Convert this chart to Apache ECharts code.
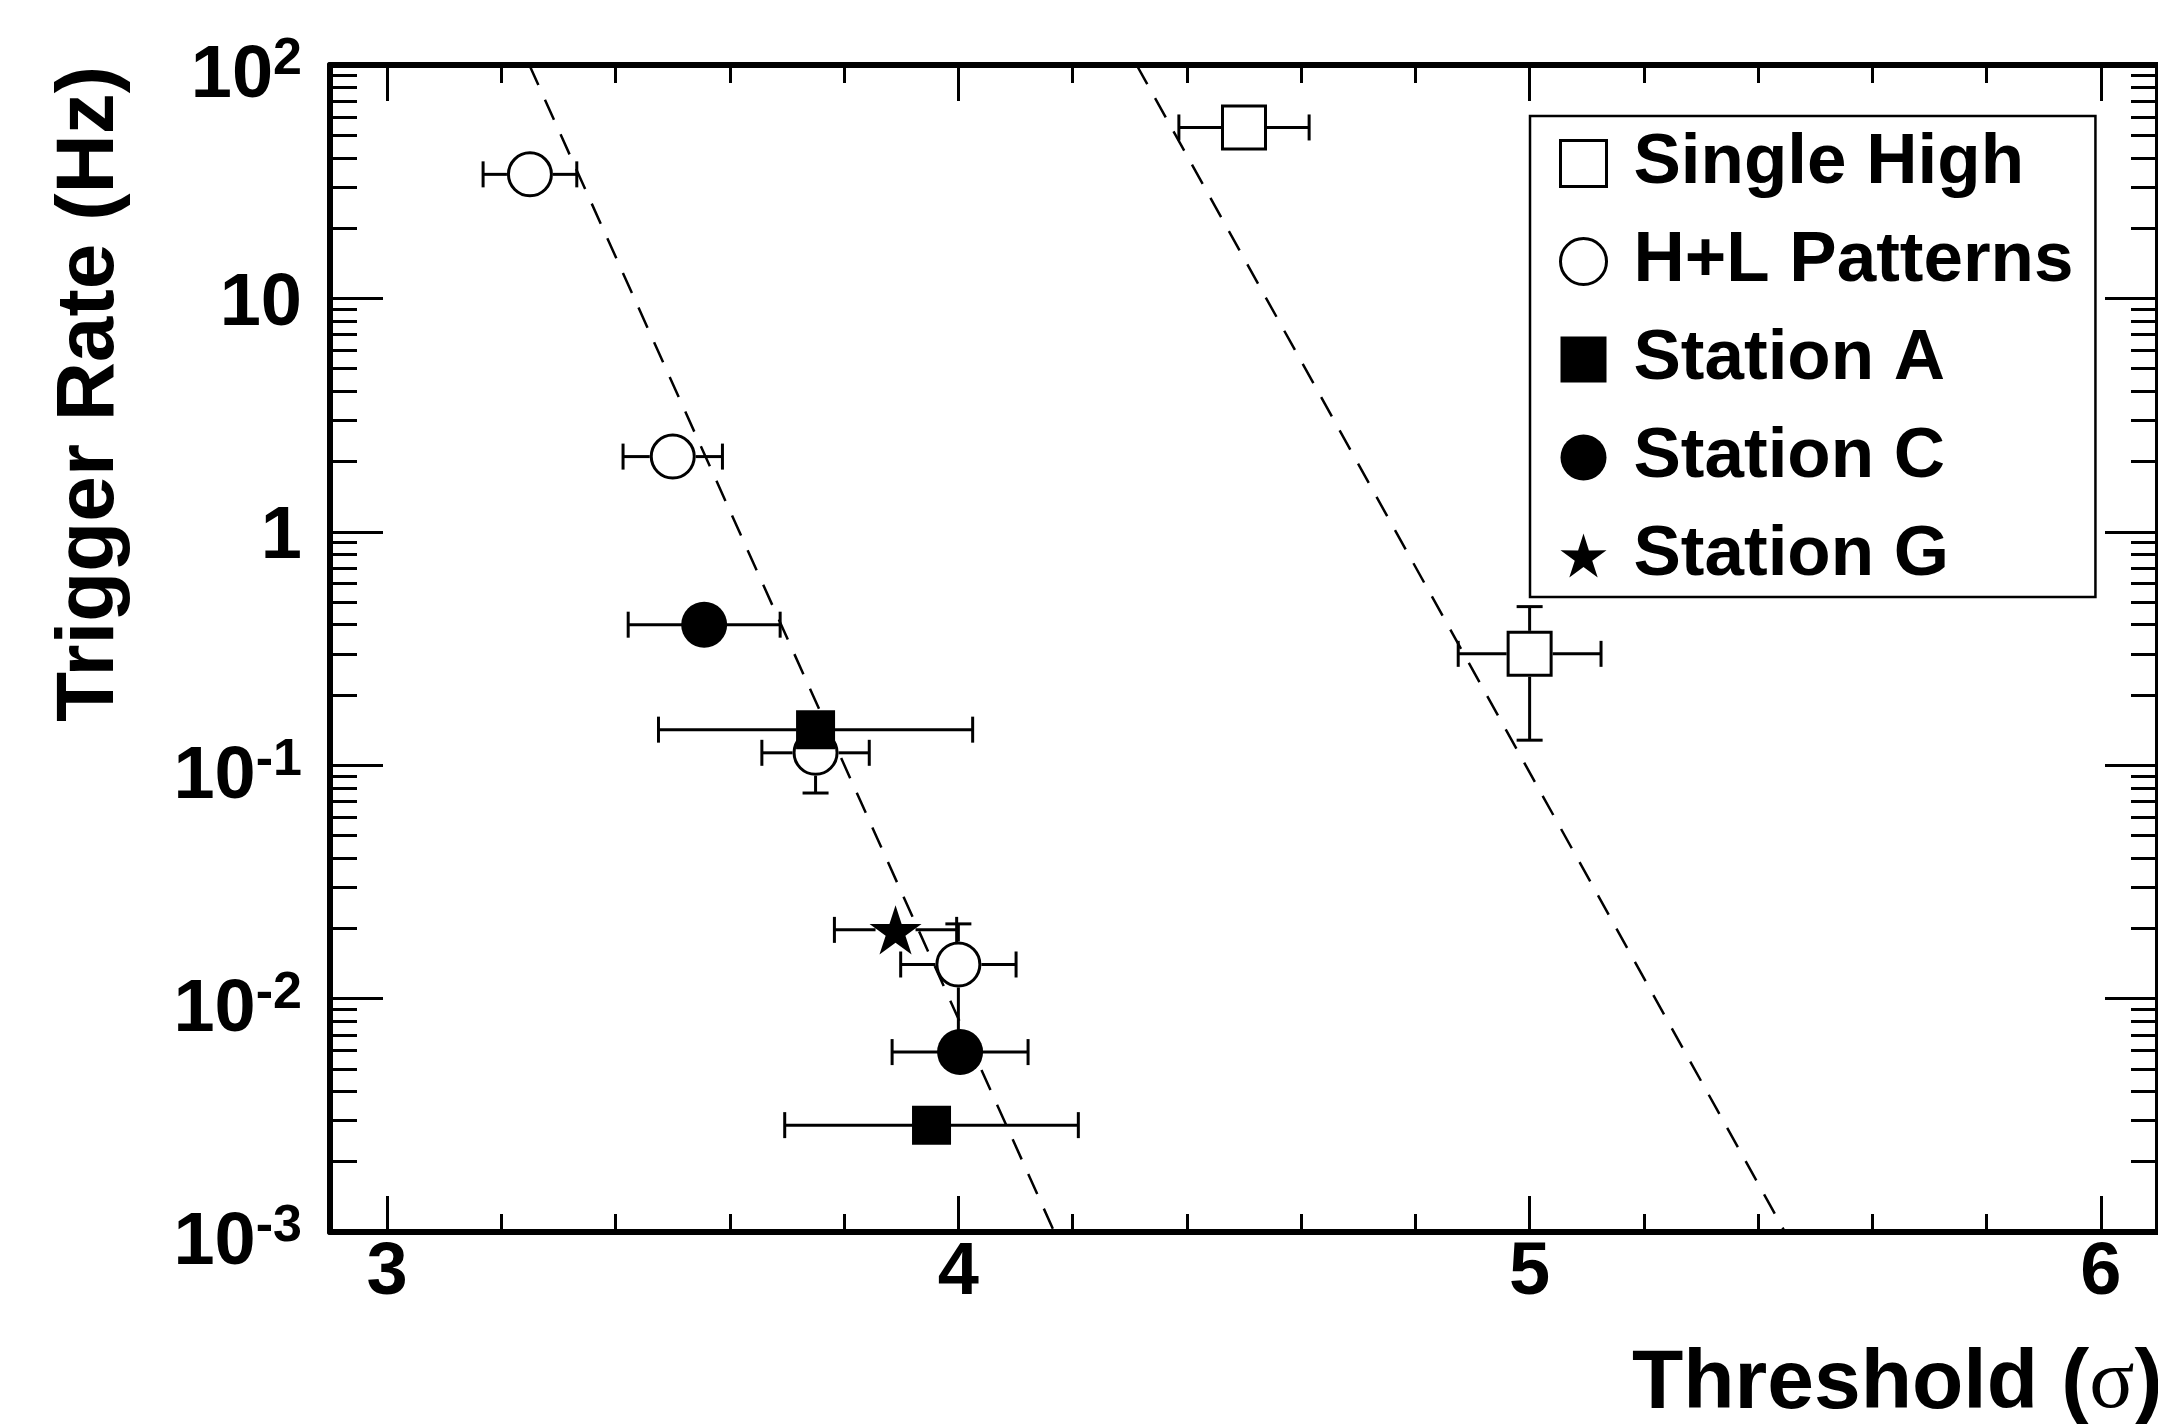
<!DOCTYPE html>
<html>
<head>
<meta charset="utf-8">
<title>Trigger Rate vs Threshold</title>
<script src="https://cdn.jsdelivr.net/npm/echarts@6.0.0/dist/echarts.min.js"></script>
<style>
    html, body { margin: 0; padding: 0; background: #fff; }
    #charts { width: 2158px; height: 1424px; }
</style>
</head>
<body>
<div id="charts"></div>
<script>
// 数据
var singleHighX = [4.50, 5.00];
var singleHighY = [54, 0.30];
var singleHighXErr = [0.114, 0.125];
var singleHighYLow = [54, 0.128];
var singleHighYHigh = [54, 0.478];

var hlX = [3.25, 3.50, 3.75, 4.00];
var hlY = [34, 2.1, 0.113, 0.0140];
var hlXErr = [0.082, 0.087, 0.094, 0.101];
var hlYLow = [34, 2.1, 0.076, 0.0068];
var hlYHigh = [34, 2.1, 0.150, 0.0209];

var stationAX = [3.75, 3.953];
var stationAY = [0.142, 0.00287];
var stationAXErr = [0.275, 0.257];

var stationCX = [3.555, 4.003];
var stationCY = [0.40, 0.0059];
var stationCXErr = [0.133, 0.119];

var stationGX = [3.89];
var stationGY = [0.0197];
var stationGXErr = [0.107];

// dashed fit lines, end points on the frame
var fitLowX = [3.249, 4.168];
var fitLowY = [100, 0.001];
var fitHighX = [4.312, 5.447];
var fitHighY = [100, 0.001];

// axes
var xMin = 2.9, xMax = 6.1;
var xTickMajor = [3, 4, 5, 6];
var xTickMinor = [3.2, 3.4, 3.6, 3.8, 4.2, 4.4, 4.6, 4.8, 5.2, 5.4, 5.6, 5.8];
var yMin = 0.001, yMax = 100;
var yDecades = [-3, -2, -1, 0, 1];
var yMinorMult = [2, 3, 4, 5, 6, 7, 8, 9];

var legendNames = ['Single High', 'H+L Patterns', 'Station A', 'Station C', 'Station G'];

var fontSans = '"Liberation Sans", Arial, Helvetica, sans-serif';
var starPath = 'path://M50 0 L61.17 34.63 L97.55 34.55 L68.07 55.87 L79.39 90.45 L50 69 L20.61 90.45 L31.93 55.87 L2.45 34.55 L38.83 34.63 Z';

// minor tick positions on the helper (log10) axis
var yMinorLog = [];
for (var i = 0; i < yDecades.length; i++) {
    for (var j = 0; j < yMinorMult.length; j++) {
        yMinorLog.push(yDecades[i] + Math.log(yMinorMult[j]) / Math.LN10);
    }
}

function points(xs, ys) {
    var list = [];
    for (var i = 0; i < xs.length; i++) {
        list.push([xs[i], ys[i]]);
    }
    return list;
}

function errPoints(xs, ys, ex, ylo, yhi) {
    var list = [];
    for (var i = 0; i < xs.length; i++) {
        list.push([xs[i], ys[i], ex[i], ylo ? ylo[i] : ys[i], yhi ? yhi[i] : ys[i]]);
    }
    return list;
}

// error bars, drawn from the marker edge outwards, with end caps
function errorSeries(name, data, half) {
    var cap = 13;
    return {
        name: name,
        type: 'custom',
        silent: true,
        z: 2,
        encode: { x: 0, y: 1 },
        data: data,
        renderItem: function (params, api) {
            var x = api.value(0), y = api.value(1), ex = api.value(2);
            var ylo = api.value(3), yhi = api.value(4);
            var c = api.coord([x, y]);
            var l = api.coord([x - ex, y]);
            var r = api.coord([x + ex, y]);
            var st = { stroke: '#000', lineWidth: 3 };
            var kids = [];
            function seg(x1, y1, x2, y2) {
                kids.push({ type: 'line', shape: { x1: x1, y1: y1, x2: x2, y2: y2 }, style: st });
            }
            if (c[0] - half > l[0]) seg(l[0], c[1], c[0] - half, c[1]);
            if (r[0] > c[0] + half) seg(c[0] + half, c[1], r[0], c[1]);
            seg(l[0], c[1] - cap, l[0], c[1] + cap);
            seg(r[0], c[1] - cap, r[0], c[1] + cap);
            if (ylo < y) {
                var lo = api.coord([x, ylo]);
                if (lo[1] > c[1] + half) seg(c[0], c[1] + half, c[0], lo[1]);
                seg(c[0] - cap, lo[1], c[0] + cap, lo[1]);
            }
            if (yhi > y) {
                var hi = api.coord([x, yhi]);
                if (hi[1] < c[1] - half) seg(c[0], hi[1], c[0], c[1] - half);
                seg(c[0] - cap, hi[1], c[0] + cap, hi[1]);
            }
            return { type: 'group', children: kids };
        }
    };
}

function yLabel(v) {
    var e = Math.round(Math.log(v) / Math.LN10);
    if (e === 0) return '{p|1}';
    if (e === 1) return '{p|10}';
    return '{b|10}{s|' + e + '}';
}

var labelBase = { fontFamily: fontSans, fontWeight: 'bold', color: '#000' };
var frameLine = { show: true, onZero: false, lineStyle: { color: '#000', width: 6 } };
var noLine = { show: false, onZero: false };

var myChart = echarts.init(document.getElementById('charts'), null, { renderer: 'canvas' });

option = {
    backgroundColor: '#fff',
    animation: false,
    grid: { left: 330, top: 65, right: 0, bottom: 192, containLabel: false },
    legend: {
        orient: 'vertical',
        left: 1530,
        top: 116,
        padding: [12, 22, 6, 29],
        itemWidth: 46,
        itemHeight: 46,
        itemGap: 27,
        selectedMode: false,
        borderColor: '#000',
        borderWidth: 2.5,
        backgroundColor: '#fff',
        textStyle: { fontFamily: fontSans, fontWeight: 'bold', fontSize: 71, lineHeight: 71, color: '#000', padding: [0, 0, 0, 22] },
        data: [
            { name: legendNames[0], icon: 'rect', itemStyle: { color: '#fff', borderColor: '#000', borderWidth: 3, opacity: 1 } },
            { name: legendNames[1], icon: 'circle', itemStyle: { color: '#fff', borderColor: '#000', borderWidth: 3, opacity: 1 } },
            { name: legendNames[2], icon: 'rect', itemStyle: { color: '#000', borderWidth: 0, opacity: 1 } },
            { name: legendNames[3], icon: 'circle', itemStyle: { color: '#000', borderWidth: 0, opacity: 1 } },
            { name: legendNames[4], icon: starPath, itemStyle: { color: '#000', borderWidth: 0, opacity: 1 } }
        ]
    },
    xAxis: [
        {
            type: 'value', position: 'bottom', min: xMin, max: xMax,
            axisLine: frameLine,
            axisTick: { show: true, inside: true, length: 36, customValues: xTickMajor, lineStyle: { color: '#000', width: 3 } },
            axisLabel: {
                show: true, customValues: xTickMajor, margin: 5,
                fontFamily: fontSans, fontWeight: 'bold', fontSize: 74, lineHeight: 74, color: '#000',
                formatter: function (v) { return String(v); }
            },
            splitLine: { show: false }
        },
        {
            type: 'value', position: 'bottom', min: xMin, max: xMax,
            axisLine: noLine,
            axisTick: { show: true, inside: true, length: 18, customValues: xTickMinor, lineStyle: { color: '#000', width: 3 } },
            axisLabel: { show: false },
            splitLine: { show: false }
        },
        {
            type: 'value', position: 'top', min: xMin, max: xMax,
            axisLine: frameLine,
            axisTick: { show: true, inside: true, length: 36, customValues: xTickMajor, lineStyle: { color: '#000', width: 3 } },
            axisLabel: { show: false },
            splitLine: { show: false }
        },
        {
            type: 'value', position: 'top', min: xMin, max: xMax,
            axisLine: noLine,
            axisTick: { show: true, inside: true, length: 18, customValues: xTickMinor, lineStyle: { color: '#000', width: 3 } },
            axisLabel: { show: false },
            splitLine: { show: false }
        }
    ],
    yAxis: [
        {
            type: 'log', logBase: 10, position: 'left', min: yMin, max: yMax,
            axisLine: frameLine,
            axisTick: { show: true, inside: true, length: 53, lineStyle: { color: '#000', width: 3 } },
            axisLabel: {
                show: true, margin: 28, showMinLabel: true, showMaxLabel: true,
                padding: [12, 0, 0, 0],
                formatter: yLabel,
                rich: {
                    p: echarts.util.extend({ fontSize: 74, lineHeight: 74 }, labelBase),
                    b: echarts.util.extend({ fontSize: 74, lineHeight: 74, padding: [12, 0, 0, 0] }, labelBase),
                    s: echarts.util.extend({ fontSize: 52, lineHeight: 52, verticalAlign: 'top' }, labelBase)
                }
            },
            splitLine: { show: false },
            minorTick: { show: false }
        },
        {
            type: 'value', position: 'left', min: -3, max: 2,
            axisLine: noLine,
            axisTick: { show: true, inside: true, length: 27, customValues: yMinorLog, lineStyle: { color: '#000', width: 3 } },
            axisLabel: { show: false },
            splitLine: { show: false }
        },
        {
            type: 'log', logBase: 10, position: 'right', min: yMin, max: yMax,
            axisLine: frameLine,
            axisTick: { show: true, inside: true, length: 53, lineStyle: { color: '#000', width: 3 } },
            axisLabel: { show: false },
            splitLine: { show: false }
        },
        {
            type: 'value', position: 'right', min: -3, max: 2,
            axisLine: noLine,
            axisTick: { show: true, inside: true, length: 27, customValues: yMinorLog, lineStyle: { color: '#000', width: 3 } },
            axisLabel: { show: false },
            splitLine: { show: false }
        }
    ],
    graphic: [
        {
            type: 'text', x: 90, y: 66, rotation: Math.PI / 2, silent: true,
            style: {
                text: 'Trigger Rate (Hz)', fill: '#000',
                font: 'bold 82px ' + fontSans,
                align: 'right', textAlign: 'right', verticalAlign: 'middle', textVerticalAlign: 'middle'
            }
        },
        {
            type: 'text', x: 1632, y: 1385, silent: true,
            style: {
                text: '{a|Threshold (}{g|σ}{a|)}',
                align: 'left', textAlign: 'left', verticalAlign: 'middle', textVerticalAlign: 'middle',
                rich: {
                    a: { fontFamily: fontSans, fontWeight: 'bold', fontSize: 84, color: '#000' },
                    g: { fontFamily: '"Liberation Serif", "Times New Roman", serif', fontSize: 84, color: '#000' }
                }
            }
        }
    ],
    series: []
};

// fit lines
option.series.push({
    name: 'fitLow', type: 'line', z: 1, symbol: 'none', silent: true,
    data: points(fitLowX, fitLowY),
    lineStyle: { color: '#000', width: 2.5, type: [22, 16] }
});
option.series.push({
    name: 'fitHigh', type: 'line', z: 1, symbol: 'none', silent: true,
    data: points(fitHighX, fitHighY),
    lineStyle: { color: '#000', width: 2.5, type: [22, 16] }
});

// error bars
option.series.push(errorSeries('errSH', errPoints(singleHighX, singleHighY, singleHighXErr, singleHighYLow, singleHighYHigh), 23));
option.series.push(errorSeries('errHL', errPoints(hlX, hlY, hlXErr, hlYLow, hlYHigh), 23));
option.series.push(errorSeries('errA', errPoints(stationAX, stationAY, stationAXErr), 19));
option.series.push(errorSeries('errC', errPoints(stationCX, stationCY, stationCXErr), 22));
option.series.push(errorSeries('errG', errPoints(stationGX, stationGY, stationGXErr), 20));

// markers
var hollow = { color: 'rgba(0,0,0,0)', borderColor: '#000', borderWidth: 3, opacity: 1 };
var solid = { color: '#000', opacity: 1 };
option.series.push({ name: legendNames[0], type: 'scatter', z: 3, symbol: 'rect', symbolSize: 43, itemStyle: hollow, data: points(singleHighX, singleHighY) });
option.series.push({ name: legendNames[1], type: 'scatter', z: 3, symbol: 'circle', symbolSize: 43, itemStyle: hollow, data: points(hlX, hlY) });
option.series.push({ name: legendNames[2], type: 'scatter', z: 3, symbol: 'rect', symbolSize: 39, itemStyle: solid, data: points(stationAX, stationAY) });
option.series.push({ name: legendNames[3], type: 'scatter', z: 3, symbol: 'circle', symbolSize: 46, itemStyle: solid, data: points(stationCX, stationCY) });
option.series.push({ name: legendNames[4], type: 'scatter', z: 3, symbol: starPath, symbolSize: 52, symbolKeepAspect: true, itemStyle: solid, data: points(stationGX, stationGY) });

myChart.setOption(option);
</script>
</body>
</html>
